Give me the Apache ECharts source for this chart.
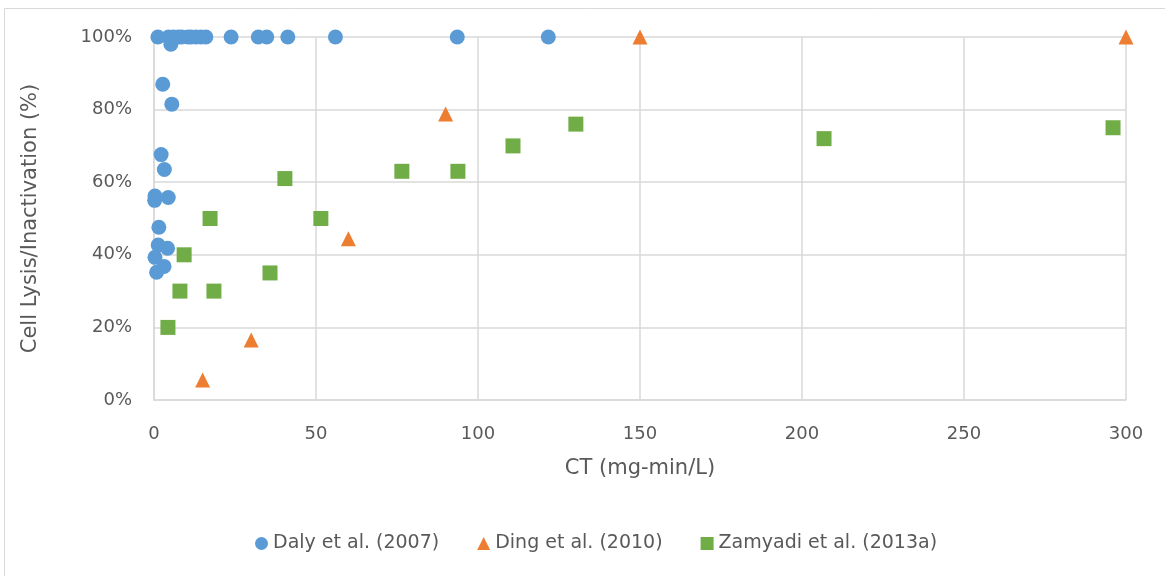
<!DOCTYPE html>
<html>
<head>
<meta charset="utf-8">
<script src="https://cdn.jsdelivr.net/npm/echarts@6/dist/echarts.min.js"></script>
<style>
  html, body { margin: 0; padding: 0; background: #ffffff; }
  #chart { width: 1165px; height: 576px; }
</style>
</head>
<body>
<div id="chart"></div>
<script>
// CT (mg-min/L) and cell lysis / inactivation (%) per study
const dalyCT = [1.2, 4.5, 6, 7.5, 8.5, 10.5, 11.5, 13, 14.5, 16, 23.8, 32.2, 34.8, 41.3, 56, 93.6, 121.7,
                5.2, 2.7, 5.5, 2.2, 3.2, 0.3, 0.2, 4.4, 1.5, 1.3, 4.2, 0.3, 3.1, 0.8];
const dalyPct = [100, 100, 100, 100, 100, 100, 100, 100, 100, 100, 100, 100, 100, 100, 100, 100, 100,
                 98, 87, 81.5, 67.6, 63.5, 56.2, 55, 55.8, 47.6, 42.7, 41.8, 39.3, 36.8, 35.2];

const dingCT = [15, 30, 60, 90, 150, 300];
const dingPct = [5.5, 16.5, 44.4, 78.8, 100, 100];

const zamyadiCT = [4.3, 8, 9.3, 17.3, 18.5, 35.8, 40.4, 51.5, 76.5, 93.8, 110.8, 130.2, 206.8, 296];
const zamyadiPct = [20, 30, 40, 50, 30, 35, 61, 50, 63, 63, 70, 76, 72, 75];

const seriesNames = ['Daly et al. (2007)', 'Ding et al. (2010)', 'Zamyadi et al. (2013a)'];
const yTicks = [0, 20, 40, 60, 80, 100];
const xTicks = [0, 50, 100, 150, 200, 250, 300];

const pair = (xs, ys) => xs.map((x, i) => [x, ys[i]]);

const FONT = 'DejaVu Sans';
const TXT = '#595959';
const GRID = '#d9d9d9';

const chart = echarts.init(document.getElementById('chart'), null, { renderer: 'canvas' });

chart.setOption({
  backgroundColor: '#ffffff',
  animation: false,
  graphic: [{
    type: 'rect',
    shape: { x: 4.5, y: 8.5, width: 1200, height: 600 },
    style: { fill: 'none', stroke: GRID, lineWidth: 1 },
    silent: true
  }],
  grid: { left: 154, right: 39, top: 37, bottom: 176 },
  xAxis: {
    type: 'value',
    min: xTicks[0],
    max: xTicks[xTicks.length - 1],
    interval: 50,
    name: 'CT (mg-min/L)',
    nameLocation: 'middle',
    nameGap: 58,
    nameTextStyle: { color: TXT, fontFamily: FONT, fontSize: 21 },
    axisLine: { show: true, lineStyle: { color: GRID, width: 1.5 } },
    axisTick: { show: false },
    axisLabel: { color: TXT, fontFamily: FONT, fontSize: 18, margin: 25 },
    splitLine: { show: true, lineStyle: { color: GRID, width: 1.5 } }
  },
  yAxis: {
    type: 'value',
    min: yTicks[0],
    max: yTicks[yTicks.length - 1],
    interval: 20,
    name: 'Cell Lysis/Inactivation (%)',
    nameLocation: 'middle',
    nameGap: 113,
    nameTextStyle: { color: TXT, fontFamily: FONT, fontSize: 21 },
    axisLine: { show: true, lineStyle: { color: GRID, width: 1.5 } },
    axisTick: { show: false },
    axisLabel: { color: TXT, fontFamily: FONT, fontSize: 18, margin: 22, formatter: '{value}%' },
    splitLine: { show: true, lineStyle: { color: GRID, width: 1.5 } }
  },
  legend: {
    data: seriesNames,
    bottom: 18,
    left: 250,
    itemWidth: 13,
    itemHeight: 13,
    itemGap: 38,
    textStyle: { color: TXT, fontFamily: FONT, fontSize: 19 }
  },
  series: [
    {
      name: seriesNames[0],
      type: 'scatter',
      symbol: 'circle',
      symbolSize: 15,
      itemStyle: { color: '#5B9BD5', opacity: 1 },
      data: pair(dalyCT, dalyPct),
      z: 3
    },
    {
      name: seriesNames[1],
      type: 'scatter',
      symbol: 'triangle',
      symbolSize: 15,
      itemStyle: { color: '#ED7D31', opacity: 1 },
      data: pair(dingCT, dingPct),
      z: 4
    },
    {
      name: seriesNames[2],
      type: 'scatter',
      symbol: 'rect',
      symbolSize: 15,
      itemStyle: { color: '#70AD47', opacity: 1 },
      data: pair(zamyadiCT, zamyadiPct),
      z: 2
    }
  ]
});
</script>
</body>
</html>
